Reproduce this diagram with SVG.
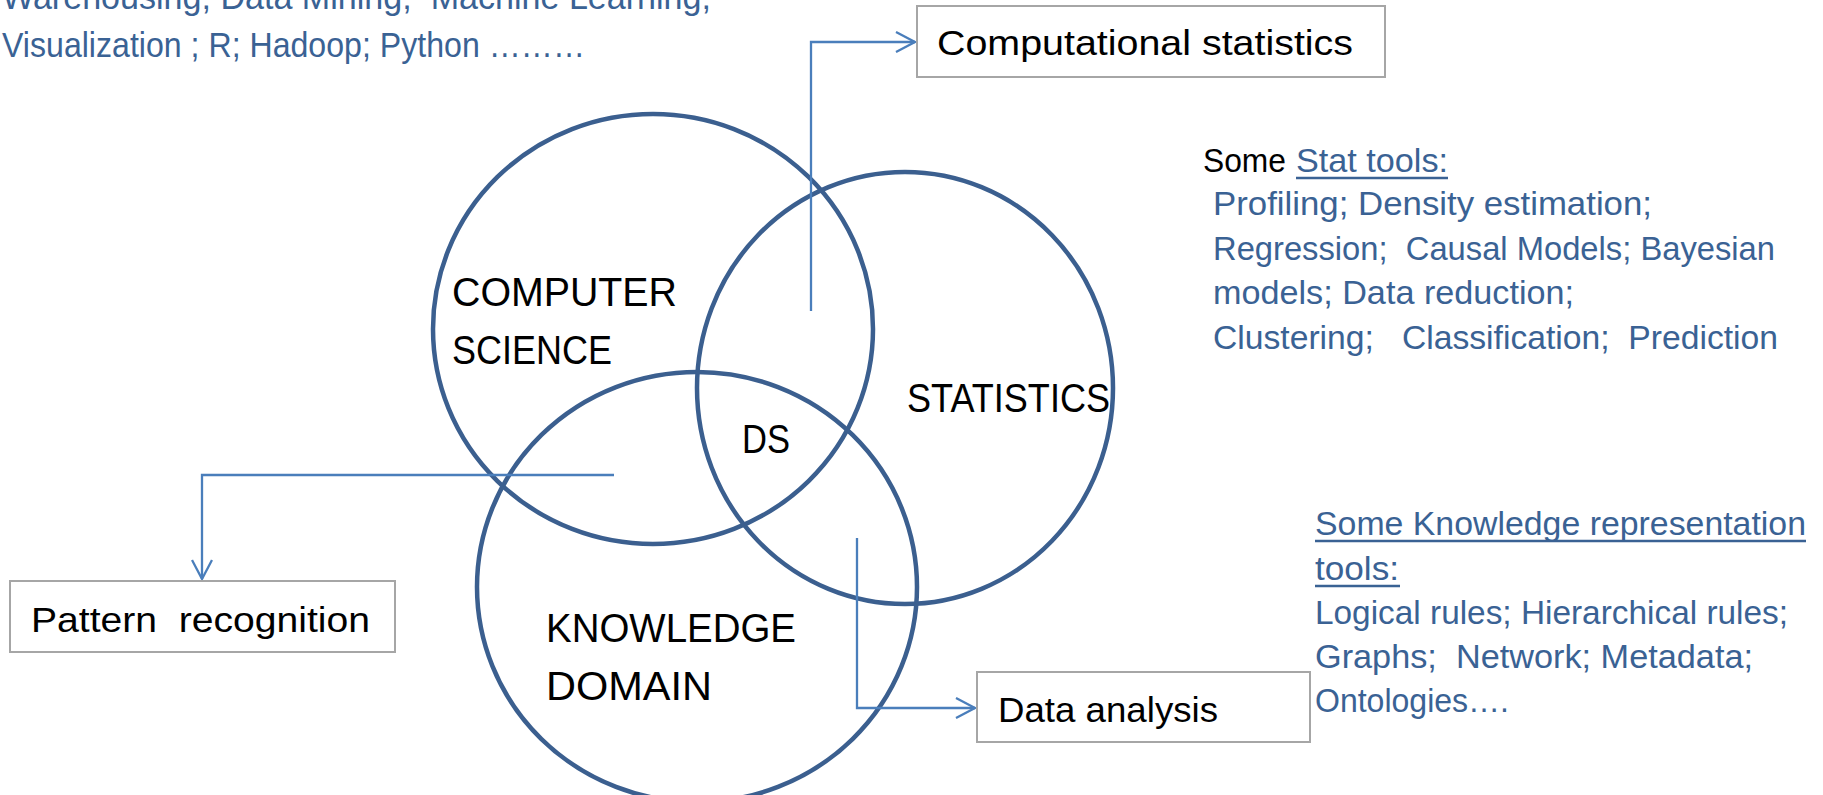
<svg xmlns="http://www.w3.org/2000/svg" width="1823" height="795" viewBox="0 0 1823 795">
<defs>
<style>
text{font-family:"Liberation Sans",Arial,sans-serif;white-space:pre}
.big{font-size:40px;fill:#000}
.box{font-size:35px;fill:#000}
.blue{font-size:33px;fill:#3a6294}
.tl{font-size:35px;fill:#3a6294}
.blk{font-size:33px;fill:#000}
.circ{fill:none;stroke:#3b5f8f;stroke-width:4.5}
.nb{fill:#fff;stroke:#a6a6a6;stroke-width:2}
.conn{fill:none;stroke:#4a7ebb;stroke-width:2.3}
.ul{stroke:#3a6294;stroke-width:2.5}
</style>
<marker id="arr" viewBox="0 0 22 22" refX="20" refY="11" markerWidth="22" markerHeight="22" markerUnits="userSpaceOnUse" orient="auto">
<path d="M1,1 L20,11 L1,21" fill="none" stroke="#4a7ebb" stroke-width="2.3"/>
</marker>
</defs>
<rect width="1823" height="795" fill="#fff"/>

<g id="top-left-notes">
<text class="tl" x="2" y="9" textLength="709" lengthAdjust="spacingAndGlyphs">Warehousing; Data Mining;  Machine Learning;</text>
<text class="tl" x="2" y="57" textLength="583" lengthAdjust="spacingAndGlyphs">Visualization ; R; Hadoop; Python ………</text>
</g>

<g id="venn">
<g id="computer-science">
<ellipse class="circ" cx="653" cy="329" rx="220" ry="215"/>
<text class="big" x="452" y="306" textLength="225" lengthAdjust="spacingAndGlyphs">COMPUTER</text>
<text class="big" x="452" y="364" textLength="160" lengthAdjust="spacingAndGlyphs">SCIENCE</text>
</g>
<g id="statistics">
<ellipse class="circ" cx="905" cy="388" rx="208" ry="216"/>
<text class="big" x="907" y="412" textLength="203" lengthAdjust="spacingAndGlyphs">STATISTICS</text>
</g>
<g id="knowledge-domain">
<ellipse class="circ" cx="697" cy="587" rx="220" ry="215"/>
<text class="big" x="546" y="642" textLength="250" lengthAdjust="spacingAndGlyphs">KNOWLEDGE</text>
<text class="big" x="546" y="700" textLength="166" lengthAdjust="spacingAndGlyphs">DOMAIN</text>
</g>
<g id="ds">
<text class="big" x="742" y="453" textLength="48" lengthAdjust="spacingAndGlyphs">DS</text>
</g>
</g>

<g id="connectors">
<path class="conn" d="M811,311 V42 H915" marker-end="url(#arr)"/>
<path class="conn" d="M614,475 H202 V579" marker-end="url(#arr)"/>
<path class="conn" d="M857,538 V708 H975" marker-end="url(#arr)"/>
</g>

<g id="computational-statistics">
<rect class="nb" x="917" y="6" width="468" height="71"/>
<text class="box" x="937" y="55" textLength="416" lengthAdjust="spacingAndGlyphs">Computational statistics</text>
</g>

<g id="pattern-recognition">
<rect class="nb" x="10" y="581" width="385" height="71"/>
<text class="box" x="31" y="632" textLength="339" lengthAdjust="spacingAndGlyphs">Pattern  recognition</text>
</g>

<g id="data-analysis">
<rect class="nb" x="977" y="672" width="333" height="70"/>
<text class="box" x="998" y="722" textLength="220" lengthAdjust="spacingAndGlyphs">Data analysis</text>
</g>

<g id="stat-tools">
<text class="blk" x="1203" y="172" textLength="83" lengthAdjust="spacingAndGlyphs">Some</text>
<text class="blue" x="1296" y="172" textLength="152" lengthAdjust="spacingAndGlyphs">Stat tools:</text>
<line class="ul" x1="1296" y1="178" x2="1448" y2="178"/>
<text class="blue" x="1213" y="215" textLength="439" lengthAdjust="spacingAndGlyphs">Profiling; Density estimation;</text>
<text class="blue" x="1213" y="259.5" textLength="562" lengthAdjust="spacingAndGlyphs">Regression;  Causal Models; Bayesian</text>
<text class="blue" x="1213" y="304" textLength="361" lengthAdjust="spacingAndGlyphs">models; Data reduction;</text>
<text class="blue" x="1213" y="348.5" textLength="565" lengthAdjust="spacingAndGlyphs">Clustering;   Classification;  Prediction</text>
</g>

<g id="knowledge-tools">
<text class="blue" x="1315" y="535" textLength="491" lengthAdjust="spacingAndGlyphs">Some Knowledge representation</text>
<line class="ul" x1="1315" y1="541" x2="1806" y2="541"/>
<text class="blue" x="1315" y="580" textLength="84" lengthAdjust="spacingAndGlyphs">tools:</text>
<line class="ul" x1="1315" y1="586" x2="1400" y2="586"/>
<text class="blue" x="1315" y="624" textLength="473" lengthAdjust="spacingAndGlyphs">Logical rules; Hierarchical rules;</text>
<text class="blue" x="1315" y="668" textLength="438" lengthAdjust="spacingAndGlyphs">Graphs;  Network; Metadata;</text>
<text class="blue" x="1315" y="712" textLength="194" lengthAdjust="spacingAndGlyphs">Ontologies….</text>
</g>
</svg>
